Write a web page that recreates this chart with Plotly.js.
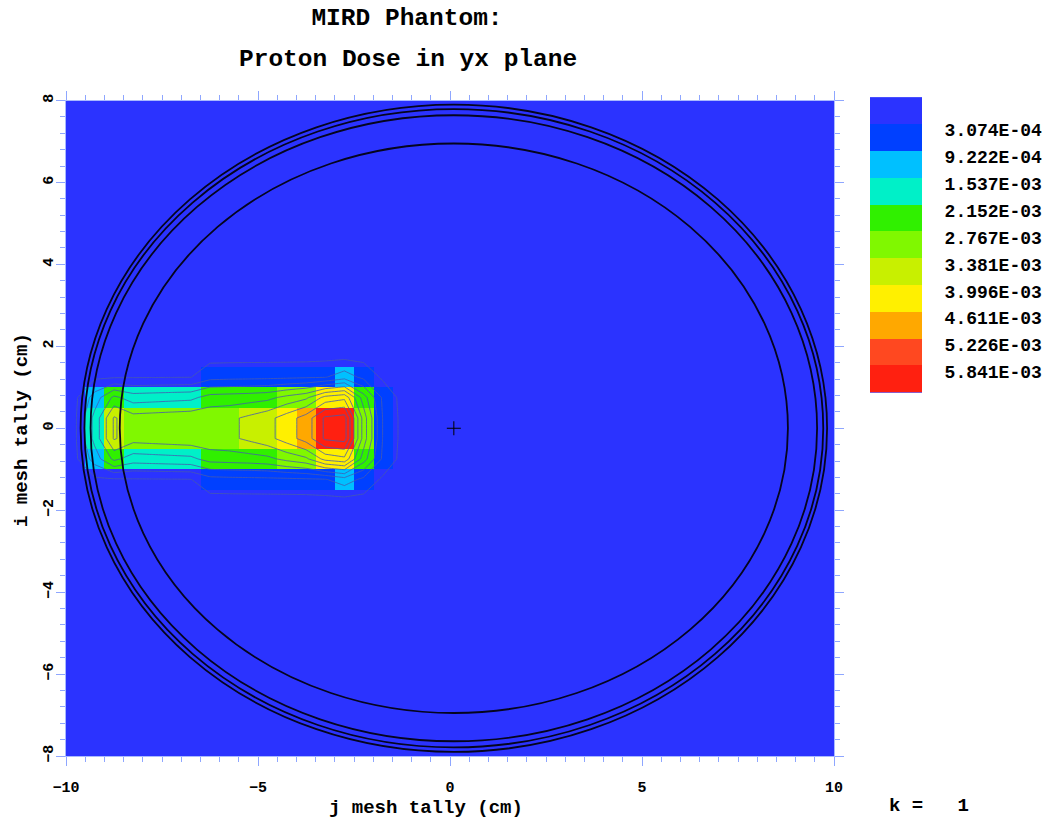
<!DOCTYPE html>
<html>
<head>
<meta charset="utf-8">
<script src="https://cdn.plot.ly/plotly-3.0.1.min.js"></script>
<style>html,body{margin:0;padding:0;background:#fff;}#chart{width:1051px;height:824px;}</style>
</head>
<body>
<div id="chart"></div>
<script>
// ---- contour levels (legend) ----
const levels = [3.074e-4, 9.222e-4, 1.537e-3, 2.152e-3, 2.767e-3, 3.381e-3, 3.996e-3, 4.611e-3, 5.226e-3, 5.841e-3];
const levelLabels = ['3.074E-04', '9.222E-04', '1.537E-03', '2.152E-03', '2.767E-03', '3.381E-03', '3.996E-03', '4.611E-03', '5.226E-03', '5.841E-03'];
const levelColors = ['#2b33ff', '#0040ff', '#00c0ff', '#00f0c8', '#30f000', '#80f800', '#c8f000', '#fff000', '#ffa800', '#ff4820', '#ff2010'];

// ---- mesh tally cells (cm) ----
const jCenters = [-9.75, -9.25, -8.75, -8.25, -7.75, -7.25, -6.75, -6.25, -5.75, -5.25, -4.75, -4.25, -3.75, -3.25, -2.75, -2.25, -1.75, -1.25];
const iCenters = [-1.75, -1.25, -0.75, -0.25, 0.25, 0.75, 1.25, 1.75];

// dose per row (i = +/-1.75, +/-1.25, +/-0.75, +/-0.25)
const doseRowI175 = [0, 0.5e-4, 0.5e-4, 0.5e-4, 0.5e-4, 0.5e-4, 0.8e-4, 1.2e-4, 1.2e-4, 1.2e-4, 1.2e-4, 1.2e-4, 1.2e-4, 1.5e-4, 1.5e-4, 1.2e-4, 0.5e-4, 0];
const doseRowI125 = [1.0e-4, 2.0e-4, 2.4e-4, 2.6e-4, 2.7e-4, 2.8e-4, 2.9e-4, 7.0e-4, 7.4e-4, 7.6e-4, 7.8e-4, 8.0e-4, 8.4e-4, 8.8e-4, 1.25e-3, 7.6e-4, 2.0e-4, 0.8e-4];
const doseRowI075 = [2.0e-4, 1.2e-3, 2.3e-3, 1.85e-3, 1.9e-3, 1.95e-3, 2.0e-3, 2.4e-3, 2.45e-3, 2.5e-3, 2.6e-3, 2.95e-3, 3.25e-3, 4.2e-3, 4.45e-3, 2.45e-3, 8.0e-4, 1.2e-4];
const doseRowI025 = [2.5e-4, 1.75e-3, 3.45e-3, 3.0e-3, 3.05e-3, 3.1e-3, 3.15e-3, 3.2e-3, 3.25e-3, 3.5e-3, 3.8e-3, 4.3e-3, 4.9e-3, 5.95e-3, 6.1e-3, 3.1e-3, 9.0e-4, 1.5e-4];

// ---- phantom geometry outlines (ellipses, cm) ----
const ellipseCenterJ = 0.1;
const ellipseCenterI = 0.0;
const ellipseSemiJ = [9.72, 9.62, 9.46, 8.70];
const ellipseSemiI = [7.90, 7.79, 7.64, 6.95];
const originMarkJ = [0.1];
const originMarkI = [0.0];

// ---- text ----
const titleLine1 = 'MIRD Phantom:';
const titleLine2 = 'Proton Dose in yx plane';
const xTitle = 'j mesh tally (cm)';
const yTitle = 'i mesh tally (cm)';
const kText = 'k =\u00a0\u00a0\u00a01';

// ---- build ----
const doseGrid = [doseRowI175, doseRowI125, doseRowI075, doseRowI025, doseRowI025, doseRowI075, doseRowI125, doseRowI175];
const zmax = levels[levels.length - 1] + levels[0];
const colorscale = [];
for (let k = 0; k < levelColors.length; k++) {
  const lo = k === 0 ? 0 : levels[k - 1] / zmax;
  const hi = k === levelColors.length - 1 ? 1 : levels[k] / zmax;
  colorscale.push([lo, levelColors[k]], [hi, levelColors[k]]);
}
const legendIdx = levelColors.map((c, k) => k);
const legendZ = levelColors.map((c, k) => {
  if (k === 0) return [0];
  if (k === levelColors.length - 1) return [zmax];
  return [(levels[k - 1] + levels[k]) / 2];
});
const legendTickVals = levelLabels.map((t, k) => k + 1 - 0.28);

const mono = 'Liberation Mono, Courier New, monospace';
const tickBlue = '#8ea6ff';

const traces = [
  {
    type: 'heatmap', x: jCenters, y: iCenters, z: doseGrid,
    zmin: 0, zmax: zmax, colorscale: colorscale, zsmooth: false,
    showscale: false, hoverinfo: 'skip', xaxis: 'x', yaxis: 'y'
  },
  {
    type: 'contour', x: jCenters, y: iCenters, z: doseGrid,
    contours: { coloring: 'none', start: levels[0], end: levels[levels.length - 1], size: levels[1] - levels[0], showlines: true },
    line: { color: 'rgba(70,90,175,0.8)', width: 1, smoothing: 0 },
    showscale: false, hoverinfo: 'skip', xaxis: 'x', yaxis: 'y'
  },
  {
    type: 'scatter', mode: 'markers', x: originMarkJ, y: originMarkI,
    marker: { symbol: 'cross-thin', size: 10, color: '#000', line: { color: '#000', width: 1 } },
    hoverinfo: 'skip', xaxis: 'x', yaxis: 'y', showlegend: false
  },
  {
    type: 'heatmap', x: [0], y: legendIdx, z: legendZ,
    zmin: 0, zmax: zmax, colorscale: colorscale, zsmooth: false,
    showscale: false, hoverinfo: 'skip', xaxis: 'x2', yaxis: 'y2'
  }
];

const shapes = ellipseSemiJ.map((a, n) => ({
  type: 'circle', xref: 'x', yref: 'y',
  x0: ellipseCenterJ - a, x1: ellipseCenterJ + a,
  y0: ellipseCenterI - ellipseSemiI[n], y1: ellipseCenterI + ellipseSemiI[n],
  line: { color: '#05051e', width: 1.8 }, layer: 'above'
}));

const W = 1051, H = 824, mL = 66, mR = 20, mT = 90, mB = 68;
const pw = W - mL - mR, ph = H - mT - mB;
const px = (x) => (x - mL) / pw;
const py = (y) => (H - mB - y) / ph;

const layout = {
  width: W, height: H,
  margin: { l: mL, r: mR, t: mT, b: mB },
  paper_bgcolor: '#ffffff', plot_bgcolor: levelColors[0],
  showlegend: false,
  title: {
    text: titleLine1, xref: 'paper', x: px(407), xanchor: 'center',
    yref: 'container', y: 1 - 16 / H, yanchor: 'middle',
    font: { family: mono, size: 24.5, color: '#000', weight: 'bold' }
  },
  xaxis: {
    domain: [0, px(834)], range: [-10, 10], tick0: 0, dtick: 5,
    ticks: 'outside', ticklen: 9, tickwidth: 1, tickcolor: tickBlue,
    minor: { dtick: 0.5, ticks: 'outside', ticklen: 5, tickwidth: 1, tickcolor: tickBlue },
    showline: true, linecolor: '#a9b9ff', linewidth: 1, mirror: 'ticks',
    showgrid: false, zeroline: false, ticklabelstandoff: 8,
    tickfont: { family: mono, size: 15, color: '#000', weight: 'bold' }
  },
  yaxis: {
    domain: [0, py(100.5)], range: [-8, 8], tick0: 0, dtick: 2,
    ticks: 'outside', ticklen: 9, tickwidth: 1, tickcolor: tickBlue,
    minor: { dtick: 0.4, ticks: 'outside', ticklen: 5, tickwidth: 1, tickcolor: tickBlue },
    showline: true, linecolor: '#a9b9ff', linewidth: 1, mirror: 'ticks',
    showgrid: false, zeroline: false, tickangle: -90, ticklabelstandoff: -3,
    tickfont: { family: mono, size: 15, color: '#000', weight: 'bold' }
  },
  xaxis2: {
    domain: [px(870), px(922)], anchor: 'y2', visible: false, range: [-0.5, 0.5], fixedrange: true
  },
  yaxis2: {
    domain: [py(392.7), py(97.3)], anchor: 'x2', side: 'right', range: [levelColors.length - 0.5, -0.5],
    tickmode: 'array', tickvals: legendTickVals, ticktext: levelLabels,
    ticks: 'outside', ticklen: 18, tickcolor: 'rgba(0,0,0,0)',
    showline: false, showgrid: false, zeroline: false,
    tickfont: { family: mono, size: 18, color: '#000', weight: 'bold' }
  },
  shapes: shapes,
  annotations: [
    { text: titleLine2, xref: 'paper', yref: 'paper', x: px(407.5), y: py(59), xanchor: 'center', yanchor: 'middle', showarrow: false,
      font: { family: mono, size: 24.5, color: '#000', weight: 'bold' } },
    { text: xTitle, xref: 'paper', yref: 'paper', x: px(425.5), y: py(808), xanchor: 'center', yanchor: 'middle', showarrow: false,
      font: { family: mono, size: 19, color: '#000', weight: 'bold' } },
    { text: yTitle, xref: 'paper', yref: 'paper', x: px(22), y: py(430), xanchor: 'center', yanchor: 'middle', showarrow: false, textangle: -90,
      font: { family: mono, size: 19, color: '#000', weight: 'bold' } },
    { text: kText, xref: 'paper', yref: 'paper', x: px(929), y: py(806), xanchor: 'center', yanchor: 'middle', showarrow: false,
      font: { family: mono, size: 19, color: '#000', weight: 'bold' } }
  ]
};

Plotly.newPlot('chart', traces, layout, { staticPlot: true, displayModeBar: false });
</script>
</body>
</html>
